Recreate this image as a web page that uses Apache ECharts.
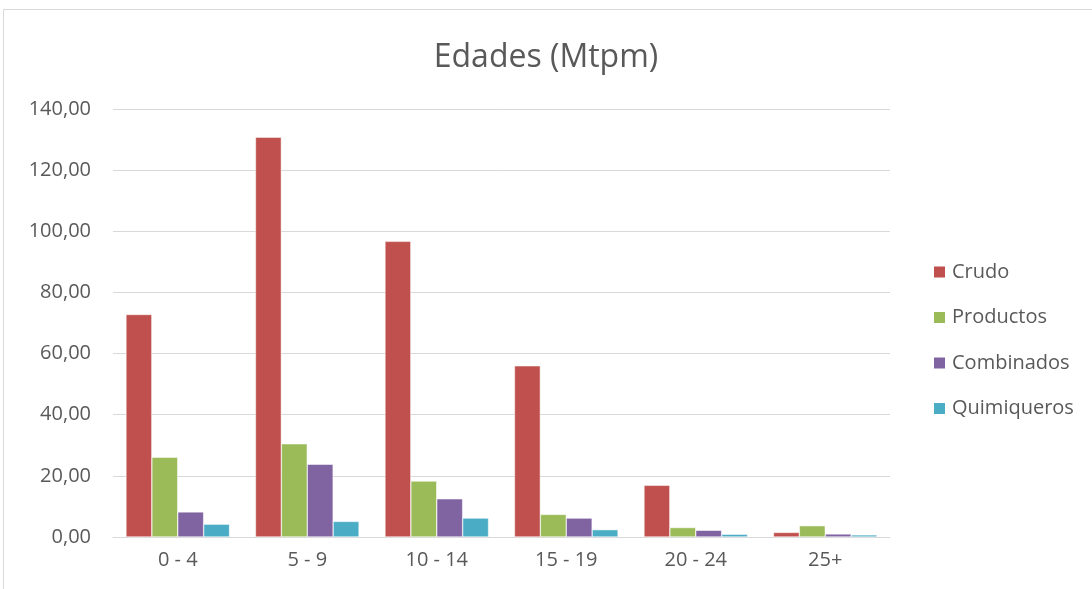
<!DOCTYPE html>
<html>
<head>
<meta charset="utf-8">
<script src="https://cdn.jsdelivr.net/npm/echarts@6/dist/echarts.min.js"></script>
<style>html,body{margin:0;padding:0;background:#fff}#c{width:1092px;height:589px}</style>
</head>
<body>
<div id="c"></div>
<script>
var categories = ['0 - 4', '5 - 9', '10 - 14', '15 - 19', '20 - 24', '25+'];
var crudo = [72.8, 130.8, 96.7, 56.0, 16.9, 1.5];
var productos = [26.1, 30.5, 18.3, 7.4, 3.1, 3.7];
var combinados = [8.2, 23.8, 12.5, 6.2, 2.2, 1.0];
var quimiqueros = [4.2, 5.1, 6.2, 2.4, 0.9, 0.7];
var seriesNames = ['Crudo', 'Productos', 'Combinados', 'Quimiqueros'];
var colors = ['#C0504D', '#9BBB59', '#8064A2', '#4BACC6'];

var FONT = '"Open Sans", "Liberation Sans", sans-serif';
var chart = echarts.init(document.getElementById('c'));
var dataSets = [crudo, productos, combinados, quimiqueros];
var series = dataSets.map(function (d, i) {
  return {
    name: seriesNames[i],
    type: 'bar',
    data: d,
    barGap: '0%',
    barCategoryGap: '20%',
    itemStyle: { color: colors[i], borderColor: '#ffffff', borderWidth: 0.5 }
  };
});
chart.setOption({
  animation: false,
  backgroundColor: '#ffffff',
  color: colors,
  graphic: [{
    type: 'rect',
    shape: { x: 3.5, y: 9.5, width: 1200, height: 700 },
    style: { fill: 'none', stroke: '#d9d9d9', lineWidth: 1 },
    silent: true
  }],
  title: {
    text: 'Edades (Mtpm)',
    left: 'center',
    top: 37,
    textStyle: { fontFamily: FONT, fontSize: 32, fontWeight: 'normal', color: '#595959' }
  },
  legend: {
    orient: 'vertical',
    left: 932,
    top: 262,
    padding: 0,
    itemWidth: 13,
    itemHeight: 13,
    itemGap: 25.5,
    icon: 'rect',
    textStyle: { fontFamily: FONT, fontSize: 20, color: '#595959', padding: [0, 0, 0, 1] },
    data: seriesNames
  },
  grid: { left: 113, right: 202, top: 109, bottom: 52, containLabel: false },
  xAxis: {
    type: 'category',
    data: categories,
    axisLine: { lineStyle: { color: '#d9d9d9', width: 1 } },
    axisTick: { show: false },
    axisLabel: { fontFamily: FONT, fontSize: 20, color: '#595959', margin: 13 }
  },
  yAxis: {
    type: 'value',
    min: 0,
    max: 140,
    interval: 20,
    axisLine: { show: false },
    axisTick: { show: false },
    splitLine: { lineStyle: { color: '#d9d9d9', width: 1 } },
    axisLabel: {
      fontFamily: FONT, fontSize: 20, color: '#595959', margin: 22,
      formatter: function (v) { return v.toFixed(2).replace('.', ','); }
    }
  },
  series: series
});
</script>
</body>
</html>
